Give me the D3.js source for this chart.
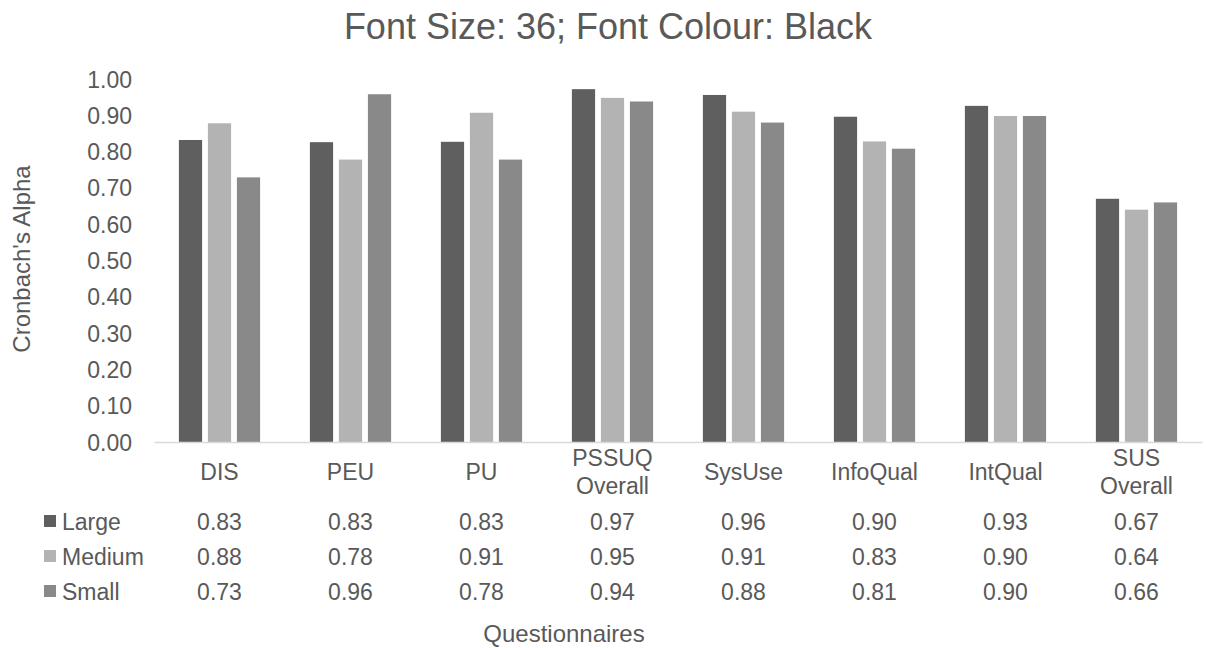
<!DOCTYPE html>
<html>
<head>
<meta charset="utf-8">
<script src="https://cdn.jsdelivr.net/npm/d3@7"></script>
<style>
  html, body { margin: 0; padding: 0; background: #fff; }
  svg { display: block; font-family: "Liberation Sans", Arial, sans-serif; }
</style>
</head>
<body>
<svg id="chart" width="1206" height="648"></svg>
<script>
const categories = [["DIS"], ["PEU"], ["PU"], ["PSSUQ", "Overall"], ["SysUse"], ["InfoQual"], ["IntQual"], ["SUS", "Overall"]];
const seriesNames = ["Large", "Medium", "Small"];
const large  = [0.832, 0.826, 0.827, 0.972, 0.956, 0.896, 0.926, 0.670];
const medium = [0.878, 0.778, 0.907, 0.948, 0.910, 0.828, 0.898, 0.640];
const small  = [0.729, 0.958, 0.778, 0.938, 0.880, 0.808, 0.898, 0.660];
const yTicks = [0, 0.1, 0.2, 0.3, 0.4, 0.5, 0.6, 0.7, 0.8, 0.9, 1.0];
const colors = ["#5f5f5f", "#b3b3b3", "#898989"];
const seriesValues = [large, medium, small];
const titleText = "Font Size: 36; Font Colour: Black";
const yTitle = "Cronbach's Alpha";
const xTitle = "Questionnaires";

const svg = d3.select("#chart");
const textColor = "#595959";
const catKeys = categories.map(c => c.join(" "));

const x0 = d3.scaleBand().domain(catKeys).range([154, 1202]).paddingInner(0.38).paddingOuter(0.19);
const x1 = d3.scaleBand().domain(seriesNames).range([0, x0.bandwidth()]).paddingInner(0.2);
const y = d3.scaleLinear().domain([0, 1]).range([442, 79]);

// Title
svg.append("text").attr("x", 608).attr("y", 39).attr("text-anchor", "middle")
  .attr("font-size", 36).attr("fill", textColor).text(titleText);

// Y axis tick labels
const yAxis = d3.axisLeft(y).tickValues(yTicks).tickFormat(d3.format(".2f")).tickSize(0).tickPadding(0);
const gy = svg.append("g").attr("transform", "translate(132,0)").call(yAxis);
gy.select(".domain").remove();
gy.selectAll("text").attr("font-size", 23).attr("fill", textColor)
  .attr("font-family", "Liberation Sans, Arial, sans-serif").attr("dy", "0.35em");

// Bars
seriesNames.forEach((s, si) => {
  svg.append("g").selectAll("rect").data(seriesValues[si]).join("rect")
    .attr("x", (d, i) => x0(catKeys[i]) + x1(s))
    .attr("width", x1.bandwidth())
    .attr("y", d => y(d))
    .attr("height", d => y(0) - y(d))
    .attr("fill", colors[si]);
});

// X axis line
const xAxis = d3.axisBottom(x0).tickSize(0).tickFormat("");
const gx = svg.append("g").attr("transform", `translate(0,${y(0)})`).call(xAxis);
gx.select(".domain").attr("stroke", "#d9d9d9").attr("stroke-width", 1.5);

// Category labels
categories.forEach((c, i) => {
  const cx = x0(catKeys[i]) + x0.bandwidth() / 2;
  const t = svg.append("text").attr("text-anchor", "middle").attr("font-size", 23).attr("fill", textColor);
  if (c.length === 1) {
    t.append("tspan").attr("x", cx).attr("y", 480).text(c[0]);
  } else {
    t.append("tspan").attr("x", cx).attr("y", 466).text(c[0]);
    t.append("tspan").attr("x", cx).attr("y", 494).text(c[1]);
  }
});

// Data table
const rowBase = [530, 565, 600];
seriesNames.forEach((s, si) => {
  svg.append("rect").attr("x", 44).attr("y", rowBase[si] - 15).attr("width", 12).attr("height", 12).attr("fill", colors[si]);
  svg.append("text").attr("x", 62).attr("y", rowBase[si]).attr("font-size", 23).attr("fill", textColor).text(s);
  seriesValues[si].forEach((v, i) => {
    svg.append("text").attr("x", x0(catKeys[i]) + x0.bandwidth() / 2).attr("y", rowBase[si])
      .attr("text-anchor", "middle").attr("font-size", 23).attr("fill", textColor).text(d3.format(".2f")(v));
  });
});

// Axis titles
svg.append("text").attr("transform", "translate(30,259) rotate(-90)").attr("text-anchor", "middle")
  .attr("font-size", 24).attr("fill", textColor).text(yTitle);
svg.append("text").attr("x", 564).attr("y", 642).attr("text-anchor", "middle")
  .attr("font-size", 24).attr("fill", textColor).text(xTitle);
</script>
</body>
</html>
